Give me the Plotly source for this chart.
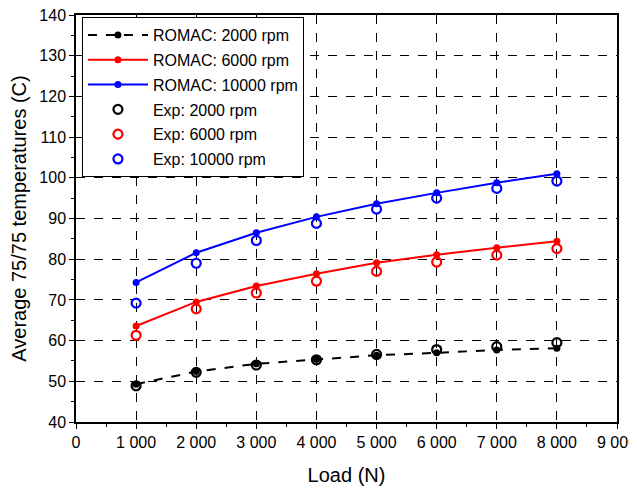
import plotly.graph_objects as go

load = [1000, 2000, 3000, 4000, 5000, 6000, 7000, 8000]
romac_2000 = [49.3, 52.4, 54.3, 55.4, 56.4, 57.0, 57.7, 58.1]
romac_6000 = [63.6, 69.5, 73.4, 76.4, 79.1, 81.1, 82.8, 84.4]
romac_10000 = [74.3, 81.6, 86.5, 90.4, 93.6, 96.3, 98.8, 101.0]
exp_2000 = [48.9, 52.2, 54.0, 55.3, 56.6, 57.8, 58.5, 59.5]
exp_6000 = [61.3, 67.8, 71.7, 74.6, 77.0, 79.3, 81.0, 82.6]
exp_10000 = [69.2, 79.0, 84.6, 88.8, 92.3, 95.0, 97.4, 99.2]

FONT = "Liberation Sans, Arial, sans-serif"

fig = go.Figure()
romac = [("ROMAC: 2000 rpm", romac_2000, "black", "dash"),
         ("ROMAC: 6000 rpm", romac_6000, "red", "solid"),
         ("ROMAC: 10000 rpm", romac_10000, "blue", "solid")]
for name, ys, col, dash in romac:
    fig.add_trace(go.Scatter(x=load, y=ys, name=name, mode="lines+markers",
                             line=dict(color=col, width=2, dash=dash),
                             marker=dict(color=col, size=7, symbol="circle"),
                             legendgroup=name))
exps = [("Exp: 2000 rpm", exp_2000, "black"),
        ("Exp: 6000 rpm", exp_6000, "red"),
        ("Exp: 10000 rpm", exp_10000, "blue")]
for name, ys, col in exps:
    fig.add_trace(go.Scatter(x=load, y=ys, name=name, mode="markers",
                             marker=dict(color=col, size=9, symbol="circle-open",
                                         line=dict(color=col, width=2.2)),
                             legendgroup=name))

axis_common = dict(showline=True, linecolor="black", linewidth=1.5, mirror=True,
                   showgrid=True, gridcolor="black", griddash="dash", gridwidth=1,
                   ticks="outside", ticklen=5, tickwidth=1, tickcolor="black",
                   zeroline=False, automargin=False, ticklabeloverflow="allow",
                   tickfont=dict(family=FONT, size=16, color="black"))

fig.update_xaxes(range=[0, 9000], dtick=1000, tick0=0, tickformat=",d",
                 minor=dict(dtick=500, ticks="outside", ticklen=3, tickcolor="black", showgrid=False),
                 title=dict(text="Load (N)", font=dict(family=FONT, size=20, color="black"), standoff=18),
                 **axis_common)
fig.update_yaxes(range=[40, 140], dtick=10, tick0=40,
                 minor=dict(dtick=5, ticks="outside", ticklen=3, tickcolor="black", showgrid=False),
                 title=dict(text="Average 75/75 temperatures (C)", font=dict(family=FONT, size=20, color="black"), standoff=13),
                 **axis_common)

fig.update_layout(
    width=637, height=489,
    margin=dict(l=68, r=28, t=7, b=75),
    paper_bgcolor="white", plot_bgcolor="white",
    separators=". ",
    showlegend=True,
    legend=dict(x=0.011, y=0.995, xanchor="left", yanchor="top",
                bgcolor="white", bordercolor="black", borderwidth=1,
                font=dict(family=FONT, size=16, color="black"),
                tracegroupgap=1, itemwidth=60,
                entrywidth=168, entrywidthmode="pixels"),
    font=dict(family=FONT),
)

fig.write_html("out.html")
